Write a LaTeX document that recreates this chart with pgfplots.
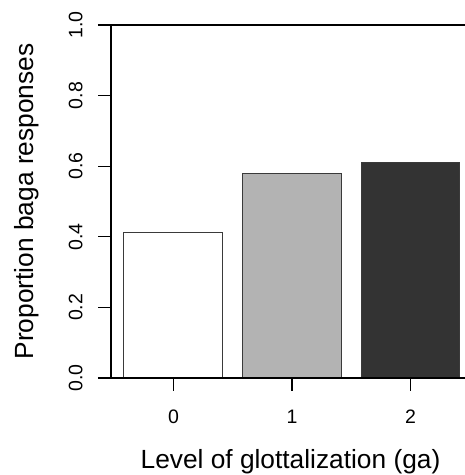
\documentclass[border=0pt]{standalone}
\usepackage{pgfplots}
\pgfplotsset{compat=1.18}
\usepackage{fontspec}
\setmainfont{Liberation Sans}
\definecolor{barmid}{HTML}{B3B3B3}
\definecolor{bardark}{HTML}{333333}
\definecolor{edge}{HTML}{3A3A3A}
\newcommand{\tl}[1]{\mbox{\fontsize{19.5}{19.5}\selectfont #1}}
\begin{document}
\begin{tikzpicture}
\begin{axis}[
  scale only axis, width=354pt, height=353pt,
  xmin=-0.527, xmax=2.46, ymin=0, ymax=1,
  axis y line*=left, axis x line*=bottom,
  axis line style={-, line width=1.3pt, black},
  clip=false,
  tick align=outside,
  major tick length=12.5pt,
  tick style={black, line width=1.3pt},
  /pgf/number format/assume math mode=true,
  xtick={0,1,2}, xticklabels={\tl{0},\tl{1},\tl{2}},
  ytick={0,0.2,0.4,0.6,0.8,1}, yticklabels={\tl{0.0},\tl{0.2},\tl{0.4},\tl{0.6},\tl{0.8},\tl{1.0}},
  tick label style={font=\fontsize{19.5}{19.5}\selectfont},
  xticklabel style={anchor=base, inner sep=0pt},
  xticklabel shift=32.5pt,
  yticklabel style={rotate=90, anchor=base, inner sep=0pt},
  yticklabel shift=16pt,
  xlabel={Level of glottalization (ga)},
  ylabel={Proportion baga responses},
  xlabel style={at={([xshift=2.5pt,yshift=-90pt]axis description cs:0.5,0)}, anchor=base, inner sep=0pt, font=\fontsize{26.3}{26.3}\selectfont},
  ylabel style={at={([xshift=-77pt]axis description cs:0,0.5)}, anchor=base, inner sep=0pt, font=\fontsize{26.3}{26.3}\selectfont},
]
\addplot[ybar, bar width=0.835, bar shift=0pt, fill=white, draw=edge, line width=1pt] coordinates {(0,0.411)};
\addplot[ybar, bar width=0.835, bar shift=0pt, fill=barmid, draw=edge, line width=1pt] coordinates {(1,0.580)};
\addplot[ybar, bar width=0.835, bar shift=0pt, fill=bardark, draw=edge, line width=1pt] coordinates {(2,0.610)};
\draw[line width=1.3pt] ([xshift=-13pt]rel axis cs:0,0) -- (rel axis cs:1,0);
\draw[line width=1.3pt] ([xshift=-13pt]rel axis cs:0,1) -- (rel axis cs:1,1);
\end{axis}
\pgfresetboundingbox
\path[use as bounding box] ([xshift=-111pt,yshift=-97pt]current axis.south west) rectangle ([yshift=25pt]current axis.north east);
\end{tikzpicture}
\end{document}
